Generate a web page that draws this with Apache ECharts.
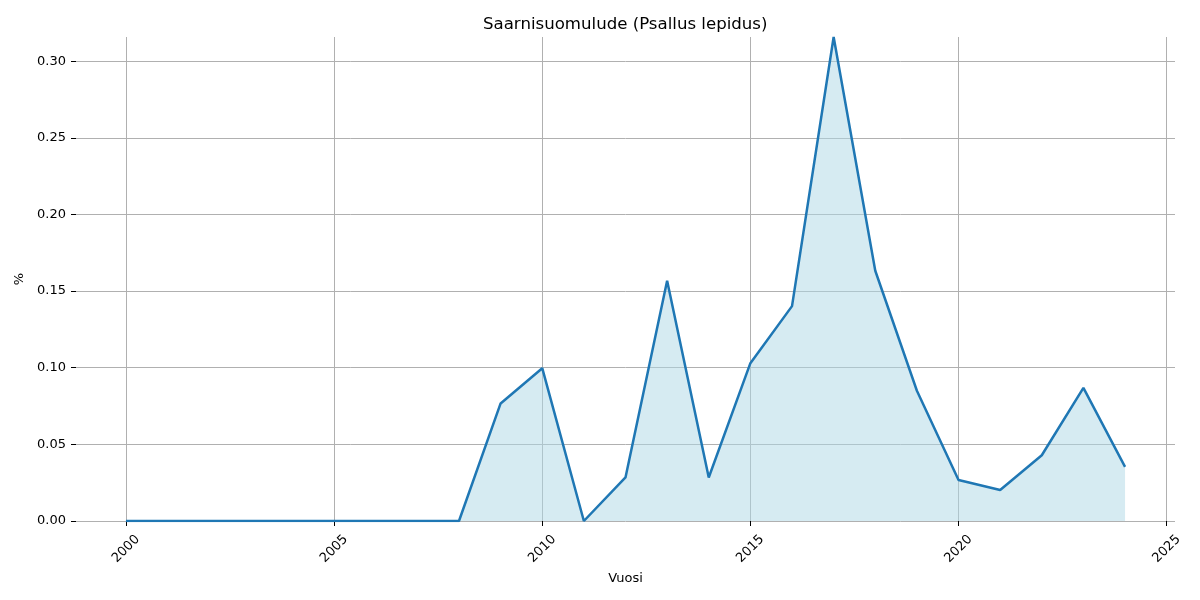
<!DOCTYPE html>
<html>
<head>
<meta charset="utf-8">
<script src="https://cdn.jsdelivr.net/npm/echarts@6/dist/echarts.min.js"></script>
<style>html,body{margin:0;padding:0;background:#fff}#c{width:1200px;height:600px}</style>
</head>
<body>
<div id="c"></div>
<script>
const years = [2000,2001,2002,2003,2004,2005,2006,2007,2008,2009,2010,2011,2012,2013,2014,2015,2016,2017,2018,2019,2020,2021,2022,2023,2024];
const values = [0,0,0,0,0,0,0,0,0,0.0767,0.0997,0,0.0284,0.1567,0.0284,0.1030,0.1402,0.3158,0.1633,0.0850,0.0268,0.0202,0.0429,0.0869,0.0353];
const xTicks = [2000,2005,2010,2015,2020,2025];
const yTicks = [0,0.05,0.10,0.15,0.20,0.25,0.30];
const titleText = 'Saarnisuomulude (Psallus lepidus)';
const xName = 'Vuosi';
const yName = '%';

const font = 'DejaVu Sans';
const chart = echarts.init(document.getElementById('c'), null, {renderer:'canvas'});
const ymax = Math.max(...values);
chart.setOption({
  animation:false,
  backgroundColor:'#fff',
  title:{text:titleText,left:478,top:11,textStyle:{fontFamily:font,fontSize:16.6,fontWeight:'normal',color:'#000'}},
  grid:{left:76,right:25,top:37,bottom:79,containLabel:false},
  xAxis:{
    type:'value',min:1998.8,max:2025.2,
    name:xName,nameLocation:'middle',nameGap:51,
    nameTextStyle:{fontFamily:font,fontSize:13,color:'#000'},
    axisLine:{show:false},
    axisTick:{show:true,length:5,lineStyle:{color:'#000',width:1},customValues:xTicks},
    axisLabel:{customValues:xTicks,rotate:45,align:'center',verticalAlign:'middle',margin:28,fontFamily:font,fontSize:13,color:'#000',formatter:v=>String(v)},
    splitLine:{show:true,lineStyle:{color:'#b0b0b0',width:1}}
  },
  yAxis:{
    type:'value',min:0,max:ymax,
    name:yName,nameLocation:'middle',nameGap:49,nameRotate:90,
    nameTextStyle:{fontFamily:font,fontSize:13,color:'#000'},
    axisLine:{show:false},
    axisTick:{show:true,length:5,lineStyle:{color:'#000',width:1},customValues:yTicks},
    axisLabel:{customValues:yTicks,margin:10,fontFamily:font,fontSize:13,color:'#000',formatter:v=>v.toFixed(2)},
    splitLine:{show:true,lineStyle:{color:'#b0b0b0',width:1}}
  },
  series:[{
    type:'line',
    data:years.map((y,i)=>[y,values[i]]),
    showSymbol:false,
    lineStyle:{color:'#1f77b4',width:2.5},
    itemStyle:{color:'#1f77b4'},
    areaStyle:{color:'rgba(173,216,230,0.5)',opacity:1,origin:'start'},
    z:3
  }]
});
</script>
</body>
</html>
